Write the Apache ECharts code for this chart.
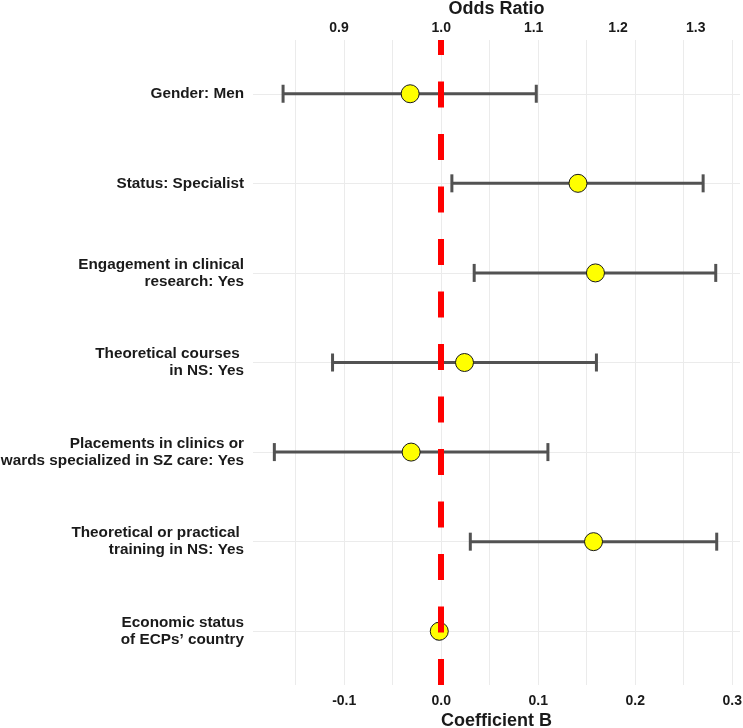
<!DOCTYPE html>
<html lang="en">
<head>
  <meta charset="UTF-8">
  <title>Forest plot</title>
  <script src="https://cdn.jsdelivr.net/npm/echarts@6/dist/echarts.min.js"></script>
  <style>
    html, body { margin: 0; padding: 0; background: #fff; }
  </style>
</head>
<body>
  <div id="main" style="width:743px;height:728px;"></div>
  <script type="text/javascript">
    // rows, top to bottom
    var categories = [
      "Gender: Men",
      "Status: Specialist",
      "Engagement in clinical\nresearch: Yes",
      "Theoretical courses \nin NS: Yes",
      "Placements in clinics or\nwards specialized in SZ care: Yes",
      "Theoretical or practical \ntraining in NS: Yes",
      "Economic status\nof ECPs\u2019 country"
    ];
    // coefficient B and its confidence interval
    var coefB = [-0.032, 0.141, 0.159, 0.024, -0.031, 0.157, -0.002];
    var lowerB = [-0.163, 0.011, 0.034, -0.112, -0.172, 0.030, -0.004];
    var upperB = [0.098, 0.270, 0.283, 0.160, 0.110, 0.284, -0.001];

    var bTicks = [-0.1, 0.0, 0.1, 0.2, 0.3];
    var orTicks = [0.9, 1.0, 1.1, 1.2, 1.3];
    var gridB = [-0.15, -0.1, -0.05, 0, 0.05, 0.1, 0.15, 0.2, 0.25, 0.3];
    var rowIdx = [0, 1, 2, 3, 4, 5, 6];

    var X_MIN = -0.194, X_MAX = 0.308;
    var Y_MIN = -0.6, Y_MAX = 6.6;
    var FONT = "Liberation Sans, Arial, sans-serif";

    var ciData = rowIdx.map(function (i) { return [lowerB[i], upperB[i], i]; });
    var ptData = rowIdx.map(function (i) { return [coefB[i], i]; });

    var myChart = echarts.init(document.getElementById('main'), null, { renderer: 'canvas' });

    var option = {
      animation: false,
      backgroundColor: '#ffffff',
      grid: { left: 253, right: 3, top: 40, bottom: 43, containLabel: false, outerBoundsMode: 'none' },
      xAxis: [
        {
          type: 'value',
          position: 'bottom',
          min: X_MIN,
          max: X_MAX,
          name: 'Coefficient B',
          nameLocation: 'middle',
          nameMoveOverlap: false,
          nameGap: 27,
          nameTextStyle: { fontFamily: FONT, fontWeight: 'bold', fontSize: 18, color: '#1a1a1a' },
          axisLine: { show: false },
          axisTick: { show: false, customValues: gridB },
          splitLine: { show: true, lineStyle: { color: '#ebebeb', width: 1 } },
          axisLabel: {
            customValues: bTicks,
            margin: 9,
            fontFamily: FONT, fontWeight: 'bold', fontSize: 14, color: '#1a1a1a',
            formatter: function (v) { return v.toFixed(1); }
          }
        },
        {
          type: 'value',
          position: 'top',
          min: X_MIN,
          max: X_MAX,
          name: 'Odds Ratio',
          nameLocation: 'middle',
          nameMoveOverlap: false,
          nameGap: 22,
          nameTextStyle: { fontFamily: FONT, fontWeight: 'bold', fontSize: 18, color: '#1a1a1a' },
          axisLine: { show: false },
          axisTick: { show: false },
          splitLine: { show: false },
          axisLabel: {
            customValues: orTicks.map(Math.log),
            margin: 5,
            fontFamily: FONT, fontWeight: 'bold', fontSize: 14, color: '#1a1a1a',
            formatter: function (v) { return Math.exp(v).toFixed(1); }
          }
        }
      ],
      yAxis: {
        type: 'value',
        inverse: true,
        min: Y_MIN,
        max: Y_MAX,
        axisLine: { show: false },
        axisTick: { show: false, customValues: rowIdx },
        splitLine: { show: true, lineStyle: { color: '#ebebeb', width: 1 } },
        axisLabel: {
          customValues: rowIdx,
          margin: 9,
          align: 'right',
          lineHeight: 17,
          fontFamily: FONT, fontWeight: 'bold', fontSize: 15.3, color: '#1a1a1a',
          formatter: function (v) { return categories[Math.round(v)]; }
        }
      },
      series: [
        {
          // confidence intervals with caps
          type: 'custom',
          z: 2,
          silent: true,
          data: ciData,
          renderItem: function (params, api) {
            var p1 = api.coord([api.value(0), api.value(2)]);
            var p2 = api.coord([api.value(1), api.value(2)]);
            var h = 9;
            var st = { stroke: '#525252', lineWidth: 3 };
            return {
              type: 'group',
              children: [
                { type: 'line', shape: { x1: p1[0], y1: p1[1], x2: p2[0], y2: p2[1] }, style: st },
                { type: 'line', shape: { x1: p1[0], y1: p1[1] - h, x2: p1[0], y2: p1[1] + h }, style: st },
                { type: 'line', shape: { x1: p2[0], y1: p2[1] - h, x2: p2[0], y2: p2[1] + h }, style: st }
              ]
            };
          }
        },
        {
          // reference line at B = 0
          type: 'line',
          z: 3,
          data: [],
          markLine: {
            silent: true,
            symbol: 'none',
            label: { show: false },
            lineStyle: { color: '#ff0000', width: 6, type: [26, 26.5], opacity: 1 },
            data: [[{ coord: [0, Y_MAX] }, { coord: [0, Y_MIN] }]]
          }
        },
        {
          type: 'scatter',
          z: 4,
          silent: true,
          data: ptData,
          symbol: 'circle',
          symbolSize: 18,
          itemStyle: { color: '#ffff00', borderColor: '#1a1a1a', borderWidth: 1, opacity: 1 }
        }
      ]
    };

    myChart.setOption(option);
  </script>
</body>
</html>
